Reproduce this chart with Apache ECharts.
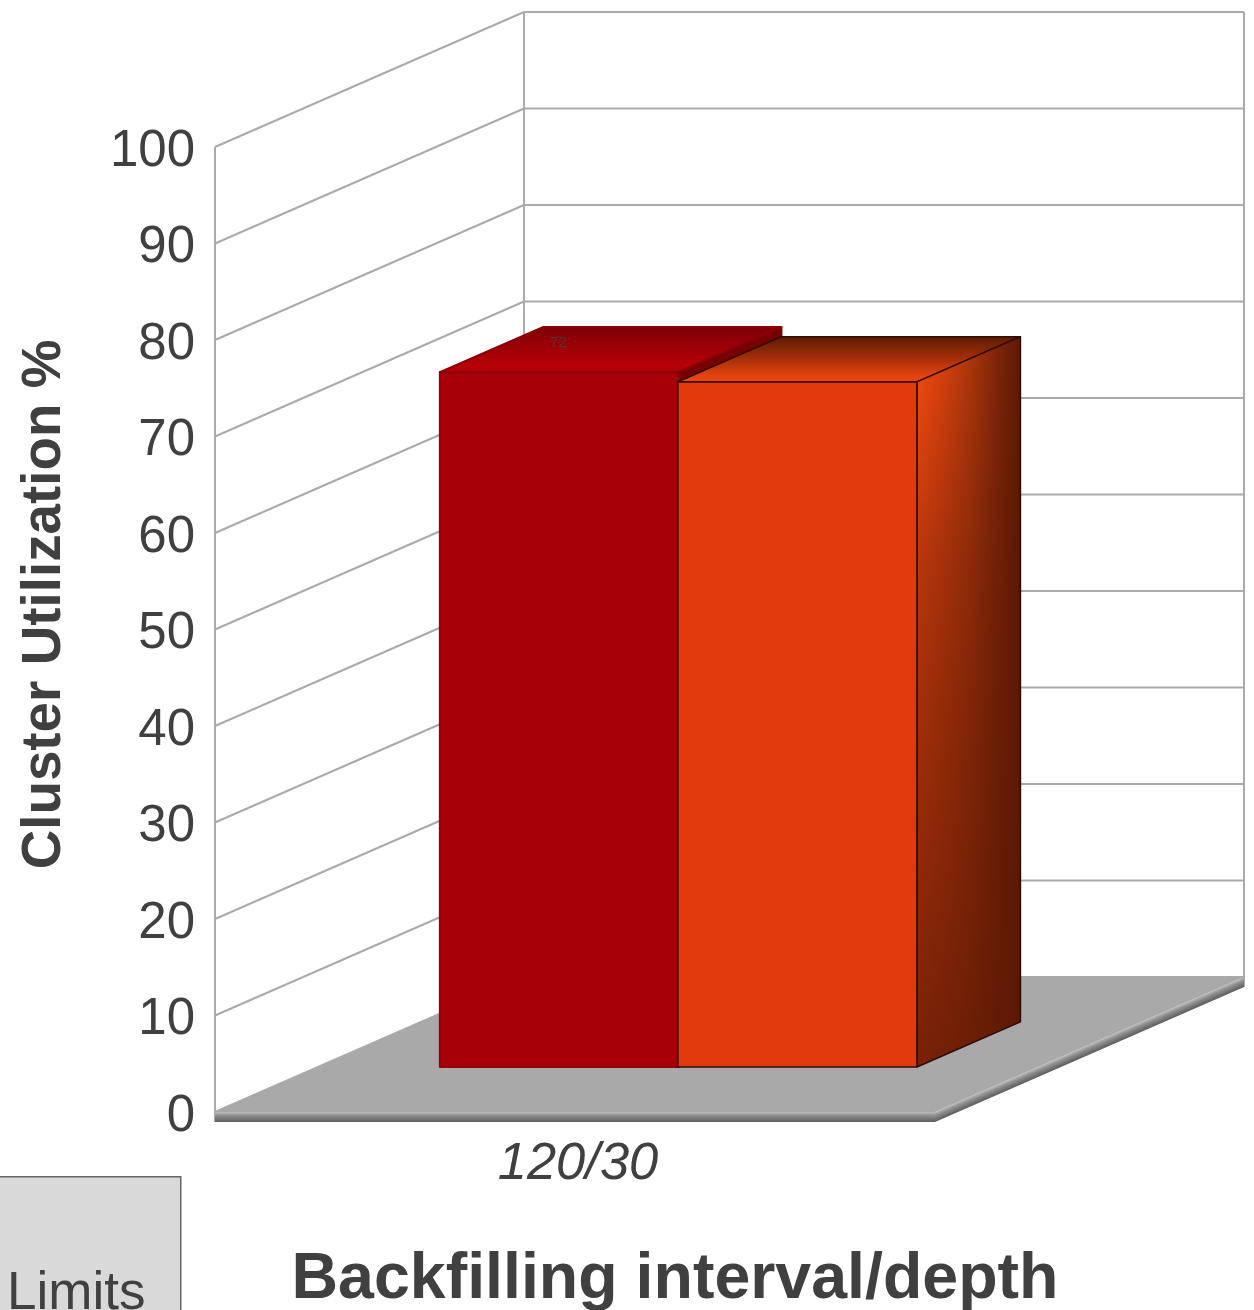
<!DOCTYPE html>
<html>
<head>
<meta charset="utf-8">
<style>html,body{margin:0;padding:0;background:#fff;overflow:hidden}#chart{width:1254px;height:1310px}</style>
<script src="https://cdn.jsdelivr.net/npm/echarts@6/dist/echarts.min.js"></script>
</head>
<body>
<div id="chart"></div>
<script>
// Cluster utilization by backfilling setting
const categories = ['120/30'];
const utilizationRed = [72];
const utilizationOrange = [71];
const yTicks = [0, 10, 20, 30, 40, 50, 60, 70, 80, 90, 100];

// Oblique projection of the chart box: how far the back wall is shifted from the front plane
const BOX_DX = 309, BOX_DY = -135;
const BAR_NEAR = 0.333, BAR_FAR = 0.668;
const SLAB = 10;
const textColor = '#404040';
const wallLine = '#aaaaaa';
const { LinearGradient } = echarts.graphic;

function shift(p, depth) {
  return [p[0] + BOX_DX * depth, p[1] + BOX_DY * depth];
}
function frame(api) {
  const c = api.coord([0, 0]);
  const band = api.size([1, 0])[0];
  const y100 = api.coord([0, 100])[1];
  return { left: c[0] - band / 2, right: c[0] + band / 2, y0: c[1], y100, band };
}
function poly(points, style) {
  return { type: 'polygon', shape: { points }, style };
}
function line(a, b, w) {
  return {
    type: 'line',
    shape: { x1: a[0], y1: a[1], x2: b[0], y2: b[1] },
    style: { stroke: wallLine, lineWidth: w || 2, fill: null }
  };
}

// Side wall and back wall, one ruling per axis tick
function renderWallRule(params, api) {
  const f = frame(api);
  const y = api.coord([0, api.value(0)])[1];
  const a = [f.left, y], b = shift(a, 1), c = [b[0] + f.band, b[1]];
  const children = [line(a, b), line(b, c)];
  if (params.dataIndex === 0) {
    const top = [f.left, f.y100], topBack = shift(top, 1);
    children.push(line(top, [a[0], a[1] + SLAB]));
    children.push(line(topBack, b));
    children.push(line([topBack[0] + f.band, topBack[1]], [c[0], c[1] + SLAB]));
  }
  return { type: 'group', children };
}

// Floor slab under the bars, with a rounded-looking lit edge
function renderFloor(params, api) {
  const f = frame(api);
  const a = [f.left, f.y0], b = [f.right, f.y0];
  const c = shift(b, 1), d = shift(a, 1);
  const stops = [
    { offset: 0, color: '#bcbcbc' }, { offset: 0.4, color: '#8c8c8c' }, { offset: 1, color: '#5c5c5c' }
  ];
  const edge = new LinearGradient(0, 0, 0, 1, stops);
  // Same shading across the receding edge, expressed in its bounding box
  const w = BOX_DX, h = -BOX_DY + SLAB;
  const len = Math.hypot(BOX_DX, BOX_DY);
  const nx = -BOX_DY / len, ny = BOX_DX / len;
  const across = SLAB * ny;
  const sideEdge = new LinearGradient(0, -BOX_DY / h, nx * across / w, (-BOX_DY + ny * across) / h, stops);
  return {
    type: 'group',
    children: [
      poly([a, b, [b[0], b[1] + SLAB], [a[0], a[1] + SLAB]], { fill: edge }),
      poly([b, c, [c[0], c[1] + SLAB], [b[0], b[1] + SLAB]], { fill: sideEdge }),
      poly([a, b, c, d], { fill: '#a9a9a9' })
    ]
  };
}

function barFaces(api, slotStart, slotEnd) {
  const f = frame(api);
  const left = f.left + f.band * slotStart;
  const right = f.left + f.band * slotEnd;
  const v = api.value(1);
  const yTop = api.coord([0, v])[1];
  return {
    nearBL: shift([left, f.y0], BAR_NEAR),
    nearBR: shift([right, f.y0], BAR_NEAR),
    nearTL: shift([left, yTop], BAR_NEAR),
    nearTR: shift([right, yTop], BAR_NEAR),
    farTL: shift([left, yTop], BAR_FAR),
    farTR: shift([right, yTop], BAR_FAR),
    farBR: shift([right, f.y0], BAR_FAR),
    value: v
  };
}

function renderRedBar(params, api) {
  const b = barFaces(api, 0.1694, 0.5);
  const rounded = { lineWidth: 2, lineJoin: 'round' };
  const topFill = new LinearGradient(0, 0, 0, 1, [
    { offset: 0, color: '#7d0004' }, { offset: 0.85, color: '#b80008' }, { offset: 1, color: '#aa0008' }
  ]);
  return {
    type: 'group',
    children: [
      poly([b.nearTR, b.farTR, b.farBR, b.nearBR], Object.assign({ fill: '#760004', stroke: '#760004' }, rounded)),
      poly([b.nearTL, b.nearTR, b.nearBR, b.nearBL], Object.assign({ fill: '#a80008', stroke: '#940007' }, rounded)),
      poly([b.nearTL, b.farTL, b.farTR, b.nearTR], Object.assign({ fill: topFill, stroke: '#8a0006' }, rounded)),
      {
        type: 'text',
        x: b.farTL[0] + 15,
        y: b.farTL[1] + 16,
        style: { text: String(b.value), fill: '#4a3a3a', font: '15px "Liberation Sans"', align: 'center', verticalAlign: 'middle' }
      }
    ]
  };
}

function renderOrangeBar(params, api) {
  const b = barFaces(api, 0.5, 0.832);
  const edge = { stroke: '#2d0c02', lineWidth: 1.5, lineJoin: 'round' };
  const topFill = new LinearGradient(0, 0, 0, 1, [
    { offset: 0, color: '#5a1a05' }, { offset: 0.5, color: '#a83009' }, { offset: 0.85, color: '#e4420f' }, { offset: 1, color: '#f0450f' }
  ]);
  // Side face: lit toward the front edge, with a second layer dimming it toward the floor
  const sideAcross = new LinearGradient(0, 0, 1, 0, [
    { offset: 0, color: '#fa4c11' }, { offset: 0.25, color: '#d9420e' }, { offset: 0.5, color: '#b0380c' },
    { offset: 0.75, color: '#83270a' }, { offset: 1, color: '#5c1804' }
  ]);
  const sideDown = new LinearGradient(0, 0, 0, 1, [
    { offset: 0, color: 'rgba(92,24,4,0)' }, { offset: 0.3, color: 'rgba(92,24,4,0.4)' },
    { offset: 0.5, color: 'rgba(92,24,4,0.55)' }, { offset: 1, color: 'rgba(92,24,4,0.82)' }
  ]);
  const side = [b.nearTR, b.farTR, b.farBR, b.nearBR];
  return {
    type: 'group',
    children: [
      poly([b.nearTL, b.farTL, b.farTR, b.nearTR], Object.assign({ fill: topFill }, edge)),
      poly(side, { fill: sideAcross }),
      poly(side, Object.assign({ fill: sideDown }, edge)),
      poly([b.nearTL, b.nearTR, b.nearBR, b.nearBL], Object.assign({ fill: '#e03a0d' }, edge))
    ]
  };
}

const chart = echarts.init(document.getElementById('chart'), null, { renderer: 'canvas' });
chart.setOption({
  animation: false,
  backgroundColor: '#ffffff',
  grid: { left: 215, top: 147, width: 720, height: 965, outerBoundsMode: 'none', containLabel: false },
  xAxis: {
    type: 'category',
    data: categories,
    name: 'Backfilling interval/depth',
    nameLocation: 'middle',
    nameGap: 136,
    nameTextStyle: { fontFamily: 'Liberation Sans', fontWeight: 'bold', fontSize: 64.5, color: textColor, padding: [0, 0, 0, 200] },
    axisLine: { show: false },
    axisTick: { show: false },
    axisLabel: { fontFamily: 'Liberation Sans', fontStyle: 'italic', fontSize: 52.5, color: textColor, margin: 26, padding: [0, 0, 0, 6] }
  },
  yAxis: {
    type: 'value',
    min: 0,
    max: 100,
    interval: 10,
    name: 'Cluster Utilization %',
    nameLocation: 'middle',
    nameGap: 143,
    nameTextStyle: { fontFamily: 'Liberation Sans', fontWeight: 'bold', fontSize: 54.8, color: textColor, padding: [0, 0, 0, 50] },
    axisLine: { show: false },
    axisTick: { show: false },
    splitLine: { show: false },
    axisLabel: { fontFamily: 'Liberation Sans', fontSize: 51, color: textColor, margin: 20, verticalAlign: 'top', padding: [-21, 0, 0, 0] }
  },
  series: [
    { type: 'custom', name: 'Walls', renderItem: renderWallRule, data: yTicks.map(t => [t]), encode: { y: 0 }, z: 1, silent: true, clip: false },
    { type: 'custom', name: 'Floor', renderItem: renderFloor, data: [[categories[0], 0]], encode: { x: 0, y: 1 }, z: 2, silent: true, clip: false },
    { type: 'custom', name: 'Red', renderItem: renderRedBar, data: categories.map((c, i) => [c, utilizationRed[i]]), encode: { x: 0, y: 1 }, z: 3, clip: false },
    { type: 'custom', name: 'Orange', renderItem: renderOrangeBar, data: categories.map((c, i) => [c, utilizationOrange[i]]), encode: { x: 0, y: 1 }, z: 4, clip: false }
  ],
  graphic: [
    { type: 'rect', left: -2, top: 1176, shape: { width: 182, height: 160 }, style: { fill: '#d9d9d9', stroke: '#666666', lineWidth: 1.5 }, z: 10 },
    { type: 'text', left: 7, top: 1268, style: { text: 'Limits', fill: textColor, font: '53px "Liberation Sans"' }, z: 11 }
  ]
});
</script>
</body>
</html>
